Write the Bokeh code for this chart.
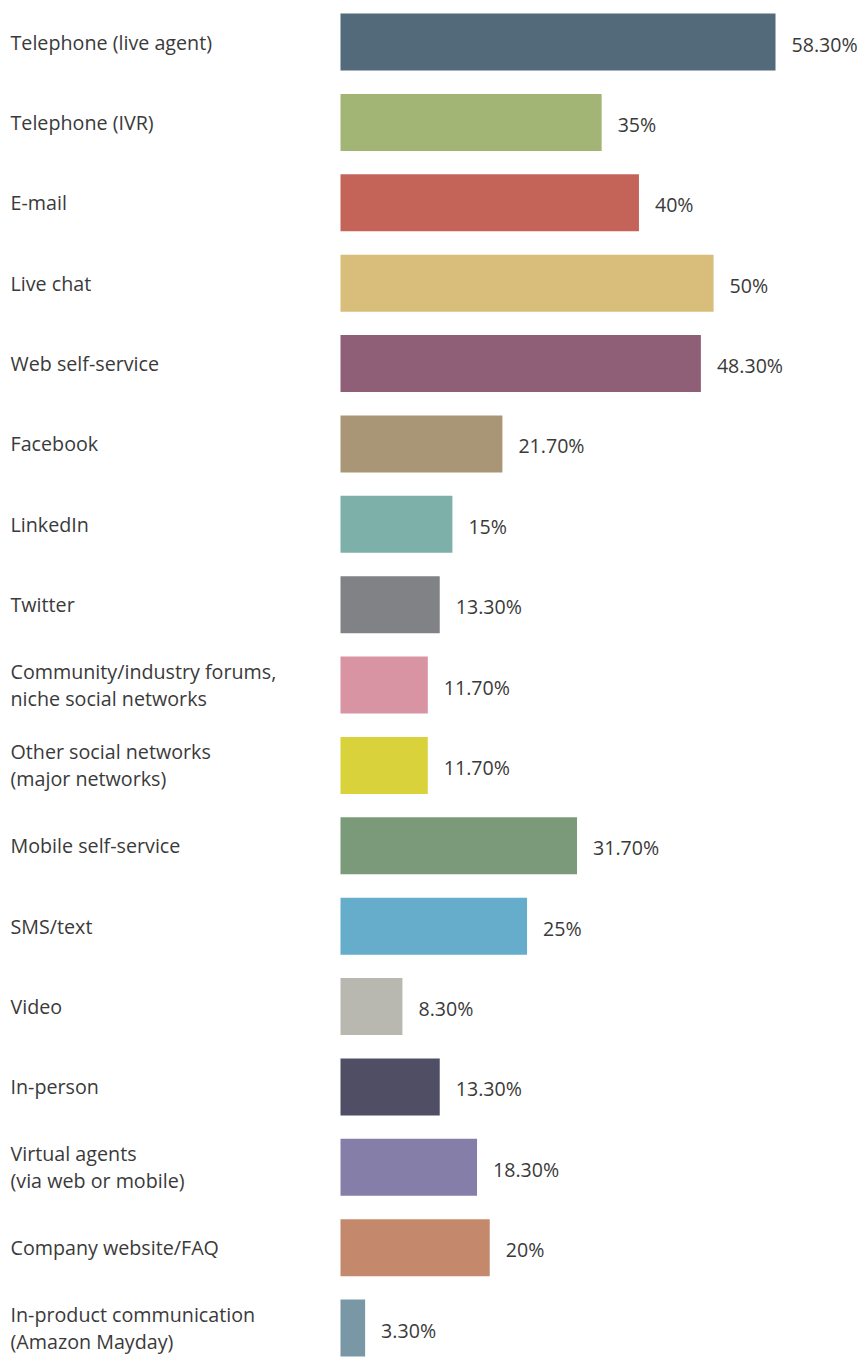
from bokeh.plotting import figure
from bokeh.models import ColumnDataSource, Range1d
from bokeh.core.properties import value
from bokeh.embed import file_html
from bokeh.resources import INLINE

categories = [
    "Telephone (live agent)",
    "Telephone (IVR)",
    "E-mail",
    "Live chat",
    "Web self-service",
    "Facebook",
    "LinkedIn",
    "Twitter",
    "Community/industry forums,\nniche social networks",
    "Other social networks\n(major networks)",
    "Mobile self-service",
    "SMS/text",
    "Video",
    "In-person",
    "Virtual agents\n(via web or mobile)",
    "Company website/FAQ",
    "In-product communication\n(Amazon Mayday)",
]
values = [58.3, 35, 40, 50, 48.3, 21.7, 15, 13.3, 11.7, 11.7, 31.7, 25, 8.3, 13.3, 18.3, 20, 3.3]
value_labels = ["58.30%", "35%", "40%", "50%", "48.30%", "21.70%", "15%", "13.30%", "11.70%",
                "11.70%", "31.70%", "25%", "8.30%", "13.30%", "18.30%", "20%", "3.30%"]
colors = ["#536a7b", "#a3b574", "#c46459", "#d9bd7a", "#8f5f77", "#a89677", "#7cb0a8",
          "#818286", "#d894a2", "#dad23a", "#7a9a79", "#65adcb", "#b8b8b0", "#4f4e65",
          "#857ea8", "#c4896c", "#7997a5"]

W, H = 859, 1362
bar_left_px = 340.0
px_per_unit = 435.0 / 58.3
pitch = 80.375
first_center = 41.5

x0 = -bar_left_px / px_per_unit
x1 = (W - bar_left_px) / px_per_unit
y_top = first_center / pitch
y_bot = -(H - first_center) / pitch

ys = [-i for i in range(len(categories))]
src = ColumnDataSource(dict(y=ys, v=values, cat=categories, lab=value_labels,
                            color=colors, lx=[x0] * len(categories)))

p = figure(width=W, height=H, output_backend="svg", toolbar_location=None,
           x_range=Range1d(x0, x1), y_range=Range1d(y_bot, y_top),
           min_border=0, min_border_left=0, min_border_right=0,
           min_border_top=0, min_border_bottom=0)
p.axis.visible = False
p.grid.visible = False
p.outline_line_color = None
p.background_fill_color = "white"
p.border_fill_color = "white"

p.hbar(y="y", left=0, right="v", height=57 / pitch, color="color", line_color=None, source=src)

p.text(x="lx", y="y", text="cat", source=src, x_offset=10,
       text_font=value("Open Sans"), text_font_size="19.7px", text_color="#3a3a3a",
       text_align="left", text_baseline="middle", text_line_height=1.0)
p.text(x="v", y="y", text="lab", source=src, x_offset=16, y_offset=2,
       text_font=value("Open Sans"), text_font_size="19.6px", text_color="#3a3a3a",
       text_align="left", text_baseline="middle")

open("out.html", "w").write(file_html(p, INLINE))
